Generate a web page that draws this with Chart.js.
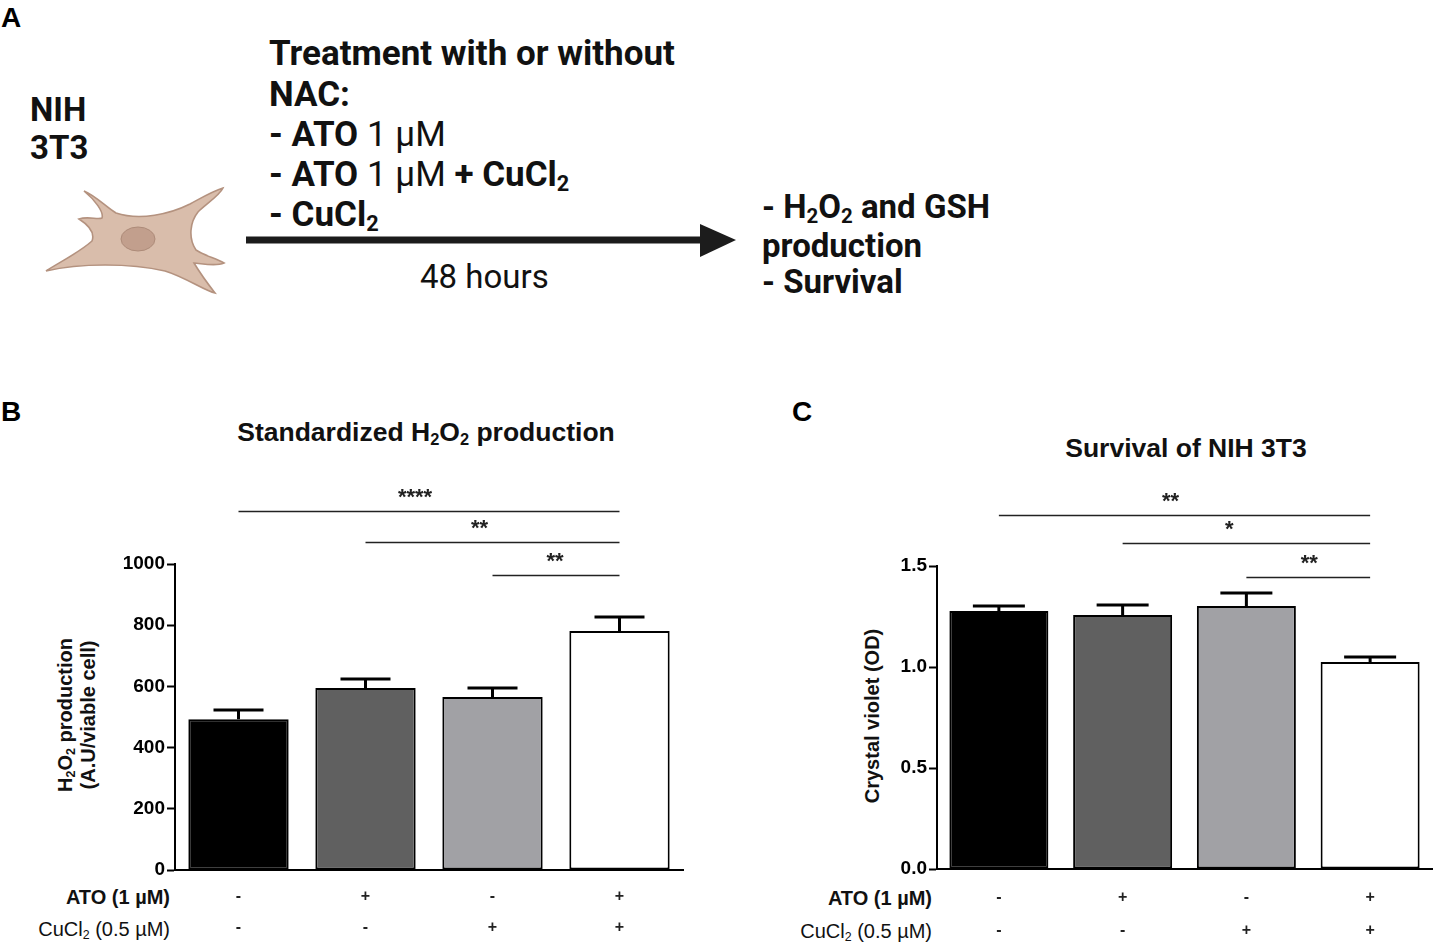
<!DOCTYPE html>
<html>
<head>
<meta charset="utf-8">
<script src="https://cdn.jsdelivr.net/npm/chart.js@4.4.1/dist/chart.umd.min.js"></script>
<style>
  html, body { margin: 0; padding: 0; background: #fff; }
  #page { position: relative; width: 1438px; height: 944px; overflow: hidden; background: #fff; }
  .t { position: absolute; white-space: nowrap; line-height: 1; color: #111; }
  .ra { font-family: Roboto, sans-serif; font-weight: 700; font-size: 35px; }
  .rn { font-weight: 400; }
  .ls { font-family: "Liberation Sans", Arial, sans-serif; font-weight: 700; }
  .lbl { font-family: "Liberation Sans", Arial, sans-serif; font-weight: 700; font-size: 28px; color: #000; }
  sub { font-size: 0.62em; vertical-align: -0.22em; line-height: 0; }
  .rot { text-align: center; transform: rotate(-90deg); transform-origin: 50% 50%; }
  canvas { position: absolute; }
</style>
</head>
<body>
<div id="page">
  <!-- panel A : schematic -->
  <div class="t lbl" style="left:1px; top:4px;">A</div>
  <div class="t ra" style="left:30px; top:93px; font-size:33px;">NIH</div>
  <div class="t ra" style="left:30px; top:131px; font-size:33px;">3T3</div>

  <svg style="position:absolute; left:0; top:0;" width="760" height="320">
    <path d="M84,191 C96,196 106,207 116,213 C140,221 170,214 190,204 C203,197 213,191 223,188
             C220,195 205,205 198,212 C190,222 188,238 196,250 C205,256 215,258 224,263
             C215,267 200,263 194,263 C200,273 208,284 215,293 C205,291 185,277 165,271
             C130,263 80,263 46,271 C60,262 80,252 92,241 C95,233 90,226 79,219
             C88,216 98,220 102,218 C104,212 95,200 84,191 Z"
          fill="#d9bdab" stroke="#b4927f" stroke-width="1.6"/>
    <ellipse cx="138" cy="239" rx="17" ry="12" fill="#c29f8d" stroke="#ad8b79" stroke-width="1"/>
    <line x1="246" y1="240" x2="704" y2="240" stroke="#1c1c1c" stroke-width="7"/>
    <polygon points="700,224 736,240 700,257" fill="#1c1c1c"/>
  </svg>

  <div class="t ra" style="left:269px; top:36px;">Treatment with or without</div>
  <div class="t ra" style="left:269px; top:77px;">NAC:</div>
  <div class="t ra" style="left:269px; top:117px;">- ATO <span class="rn">1 µM</span></div>
  <div class="t ra" style="left:269px; top:157px;">- ATO <span class="rn">1 µM</span> + CuCl<sub>2</sub></div>
  <div class="t ra" style="left:269px; top:197px;">- CuCl<sub>2</sub></div>
  <div class="t ra rn" style="left:420px; top:260px; font-size:33px;">48 hours</div>

  <div class="t ra" style="left:762px; top:190px; font-size:33px;">- H<sub>2</sub>O<sub>2</sub> and GSH</div>
  <div class="t ra" style="left:762px; top:229px; font-size:33px;">production</div>
  <div class="t ra" style="left:762px; top:265px; font-size:33px;">- Survival</div>

  <!-- panel B -->
  <div class="t lbl" style="left:1px; top:398px;">B</div>
  <div class="t ls" style="left:226px; top:419px; width:400px; text-align:center; font-size:26.5px;">Standardized H<sub>2</sub>O<sub>2</sub> production</div>
  <div class="t ls rot" style="left:-85px; top:705px; width:300px; font-size:20px;">H<sub>2</sub>O<sub>2</sub> production</div>
  <div class="t ls rot" style="left:-62px; top:705px; width:300px; font-size:20px;">(A.U/viable cell)</div>
  <div class="t ls" style="left:0; top:887px; width:170px; text-align:right; font-size:20px;">ATO (1 µM)</div>
  <div class="t ls" style="left:0; top:919px; width:170px; text-align:right; font-size:20px; font-weight:400;">CuCl<sub>2</sub> (0.5 µM)</div>
  <canvas id="chartB" width="600" height="474" style="left:100px; top:470px; width:600px; height:474px;"></canvas>

  <!-- panel C -->
  <div class="t lbl" style="left:792px; top:398px;">C</div>
  <div class="t ls" style="left:986px; top:435px; width:400px; text-align:center; font-size:26.5px;">Survival of NIH 3T3</div>
  <div class="t ls rot" style="left:722px; top:706px; width:300px; font-size:20px;">Crystal violet (OD)</div>
  <div class="t ls" style="left:700px; top:888px; width:232px; text-align:right; font-size:20px;">ATO (1 µM)</div>
  <div class="t ls" style="left:700px; top:921px; width:232px; text-align:right; font-size:20px; font-weight:400;">CuCl<sub>2</sub> (0.5 µM)</div>
  <canvas id="chartC" width="578" height="474" style="left:860px; top:470px; width:578px; height:474px;"></canvas>
</div>

<script>
// groups and treatment signs
const groups = ['Control', 'ATO', 'CuCl2', 'ATO + CuCl2'];
const atoSigns = ['-', '+', '-', '+'];
const cuSigns = ['-', '-', '+', '+'];
const barColors = ['#000000', '#606060', '#a1a1a5', '#ffffff'];

// B: standardized H2O2 production (A.U/viable cell), mean and SEM
const h2o2Mean = [493, 595, 565, 781];
const h2o2Sem = [30, 29, 30, 46];
const h2o2Ticks = [0, 200, 400, 600, 800, 1000];
const h2o2SigFrom = [0, 1, 2];
const h2o2SigTo = [3, 3, 3];
const h2o2SigLevel = [1173, 1072, 964];
const h2o2SigText = ['****', '**', '**'];

// C: survival, crystal violet OD, mean and SEM
const odMean = [1.277, 1.257, 1.302, 1.025];
const odSem = [0.025, 0.05, 0.064, 0.025];
const odTicks = [0, 0.5, 1.0, 1.5];
const odSigFrom = [0, 1, 2];
const odSigTo = [3, 3, 3];
const odSigLevel = [1.752, 1.614, 1.446];
const odSigText = ['**', '*', '**'];

Chart.defaults.font.family = "'Liberation Sans', Arial, sans-serif";
Chart.defaults.color = '#000';

// upper error bars (mean + SEM)
const errorBars = {
    id: 'errorBars',
    afterDatasetsDraw(chart, args, opts) {
        const y = chart.scales.y;
        const ctx = chart.ctx;
        const meta = chart.getDatasetMeta(0);
        ctx.save();
        ctx.strokeStyle = '#000';
        ctx.lineWidth = 3;
        meta.data.forEach((bar, i) => {
            const yBar = y.getPixelForValue(opts.mean[i]);
            const yTop = y.getPixelForValue(opts.mean[i] + opts.sem[i]);
            ctx.beginPath();
            ctx.moveTo(bar.x, yBar);
            ctx.lineTo(bar.x, yTop);
            ctx.moveTo(bar.x - opts.cap, yTop);
            ctx.lineTo(bar.x + opts.cap, yTop);
            ctx.stroke();
        });
        ctx.restore();
    }
};

// significance lines with stars
const sigLines = {
    id: 'sigLines',
    afterDraw(chart, args, opts) {
        const y = chart.scales.y;
        const ctx = chart.ctx;
        const meta = chart.getDatasetMeta(0);
        ctx.save();
        ctx.strokeStyle = '#222';
        ctx.lineWidth = 1.6;
        ctx.fillStyle = '#222';
        ctx.font = "bold 22px 'Liberation Sans', Arial, sans-serif";
        ctx.textAlign = 'center';
        ctx.textBaseline = 'alphabetic';
        opts.from.forEach((f, k) => {
            const x1 = meta.data[f].x;
            const x2 = meta.data[opts.to[k]].x;
            const yy = Math.round(y.getPixelForValue(opts.level[k])) + 0.5;
            ctx.beginPath();
            ctx.moveTo(x1, yy);
            ctx.lineTo(x2, yy);
            ctx.stroke();
            ctx.fillText(opts.text[k], (x1 + x2) / 2 + opts.shift[k], yy - 8);
        });
        ctx.restore();
    }
};

function makeChart(id, cfg) {
    const el = document.getElementById(id);
    return new Chart(el.getContext('2d'), {
        type: 'bar',
        data: {
            labels: groups,
            datasets: [{
                data: cfg.mean,
                backgroundColor: barColors,
                borderColor: '#000',
                borderWidth: 2,
                borderSkipped: false,
                categoryPercentage: 1.0,
                barPercentage: cfg.barPct
            }]
        },
        options: {
            responsive: false,
            animation: false,
            devicePixelRatio: 1,
            layout: { padding: cfg.padding },
            plugins: {
                legend: { display: false },
                tooltip: { enabled: false },
                title: { display: false },
                errorBars: { mean: cfg.mean, sem: cfg.sem, cap: cfg.cap },
                sigLines: cfg.sig
            },
            scales: {
                x: {
                    grid: { display: false, drawTicks: false },
                    border: { display: true, color: '#000', width: 2 },
                    ticks: {
                        autoSkip: false,
                        maxRotation: 0,
                        padding: cfg.xPad,
                        font: { size: 16, weight: 'bold', lineHeight: cfg.xLine },
                        color: '#222',
                        callback: (v, i) => [atoSigns[i], cuSigns[i]]
                    },
                    afterFit: s => { s.height = cfg.xHeight; }
                },
                y: {
                    min: cfg.ticks[0],
                    max: cfg.ticks[cfg.ticks.length - 1],
                    afterBuildTicks: s => { s.ticks = cfg.ticks.map(v => ({ value: v })); },
                    grid: {
                        display: true, drawOnChartArea: false, drawTicks: true,
                        tickLength: 8, tickWidth: 2, tickColor: '#000'
                    },
                    border: { display: true, color: '#000', width: 2 },
                    ticks: {
                        padding: 2,
                        font: { size: 19, weight: 'bold' },
                        color: '#000',
                        callback: cfg.fmt
                    },
                    afterFit: s => { s.width = cfg.yWidth; }
                }
            }
        },
        plugins: [errorBars, sigLines]
    });
}

makeChart('chartB', {
    mean: h2o2Mean, sem: h2o2Sem, ticks: h2o2Ticks, cap: 25, barPct: 0.79,
    padding: { left: 0, top: 94, right: 17, bottom: 0 },
    yWidth: 75, xHeight: 74, xPad: 11, xLine: '31px',
    fmt: v => String(v),
    sig: { from: h2o2SigFrom, to: h2o2SigTo, level: h2o2SigLevel, text: h2o2SigText, shift: [-14, -13, -1] }
});

makeChart('chartC', {
    mean: odMean, sem: odSem, ticks: odTicks, cap: 26, barPct: 0.8,
    padding: { left: 0, top: 96, right: 6, bottom: 0 },
    yWidth: 77, xHeight: 75, xPad: 12, xLine: '33px',
    fmt: v => Number(v).toFixed(1),
    sig: { from: odSigFrom, to: odSigTo, level: odSigLevel, text: odSigText, shift: [-14, -17, 1] }
});
</script>
</body>
</html>
